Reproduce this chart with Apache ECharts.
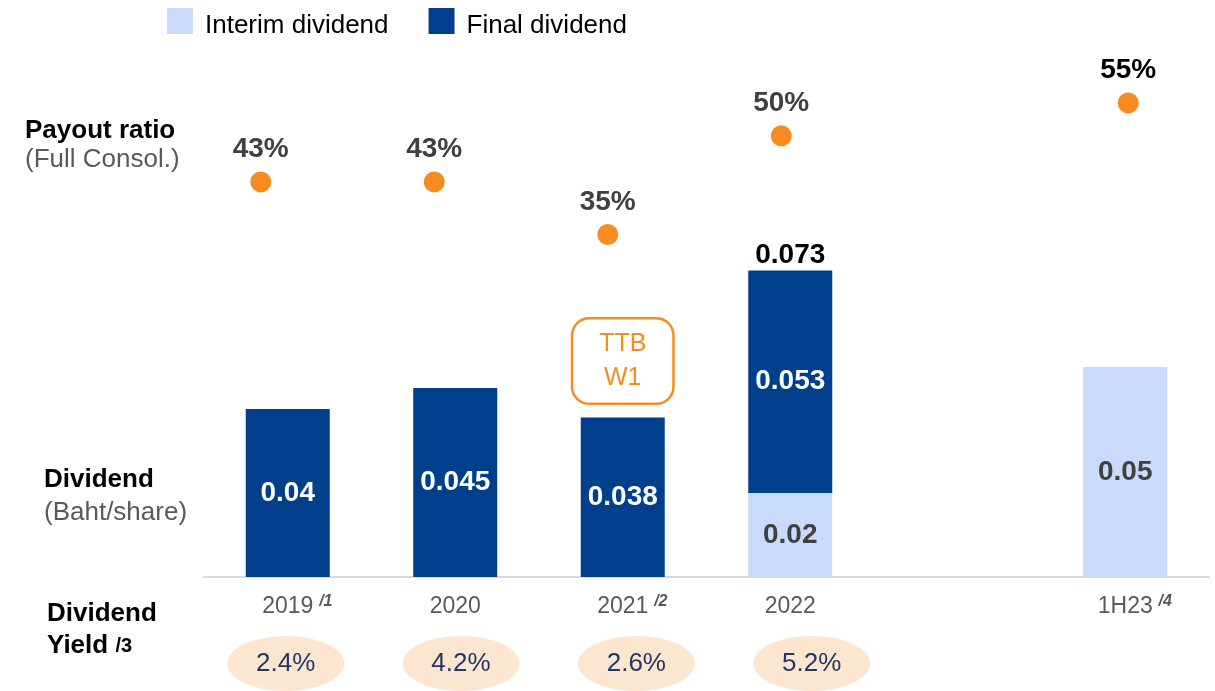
<!DOCTYPE html>
<html>
<head>
<meta charset="utf-8">
<script src="https://cdn.jsdelivr.net/npm/echarts@6/dist/echarts.min.js"></script>
<style>
html,body{margin:0;padding:0;background:#fff;}
#chart{width:1215px;height:691px;}
</style>
</head>
<body>
<div id="chart"></div>
<script>
// ---- data ----
const categories = ['2019', '2020', '2021', '2022', '', '1H23'];
const footnotes = ['/1', '', '/2', '', '', '/4'];
const interimDividend = ['-', '-', '-', 0.02, '-', 0.05];
const finalDividend = [0.04, 0.045, 0.038, 0.053, '-', '-'];
const payoutRatio = [43, 43, 35, 50, '-', 55];
const dividendYield = [2.4, 4.2, 2.6, 5.2, '-', '-'];
const noteCategory = '2021';
const noteText = 'TTB\nW1';

// totals shown only where both parts exist
const totals = categories.map((c, i) =>
  (typeof interimDividend[i] === 'number' && typeof finalDividend[i] === 'number')
    ? +(interimDividend[i] + finalDividend[i]).toFixed(3) : '-');

const FONT = "'Liberation Sans', Arial, sans-serif";
const DARK = '#003F8C', LIGHT = '#C9DAFB', ORANGE = '#F68B1F';

const chart = echarts.init(document.getElementById('chart'), null, {renderer: 'canvas'});

const lastPayoutIdx = payoutRatio.reduce((a, v, i) => typeof v === 'number' ? i : a, -1);

const option = {
  animation: false,
  textStyle: {fontFamily: FONT},
  legend: {
    left: 167, top: 8, padding: 0,
    itemWidth: 26, itemHeight: 26, itemGap: 40,
    icon: 'rect',
    data: ['Interim dividend', 'Final dividend'],
    formatter: '{a|{name}}',
    textStyle: {
      fontSize: 26, color: '#000', fontFamily: FONT, padding: [0, 0, 0, 7],
      rich: {a: {fontSize: 26, color: '#000', fontFamily: FONT, padding: [10, 0, 0, 0]}}
    },
    selectedMode: false
  },
  grid: [
    {left: 204, right: 6, top: 73, bottom: 114, outerBoundsMode: 'none'},
    {left: 174, right: 0, top: 73, bottom: 114, outerBoundsMode: 'none'},
    {left: 198, width: 1052, top: 636, height: 55, outerBoundsMode: 'none'}
  ],
  xAxis: [
    {
      gridIndex: 0, type: 'category', data: categories,
      axisLine: {lineStyle: {color: '#D9D9D9', width: 2}},
      axisTick: {show: false},
      axisLabel: {
        margin: 17,
        formatter: (v, i) => footnotes[i]
          ? '{sp|}{m|' + v + '}{s|' + footnotes[i] + '}'
          : '{m|' + v + '}',
        rich: {
          m: {fontSize: 23, color: '#595959', fontFamily: FONT, lineHeight: 26},
          s: {fontSize: 16, color: '#595959', fontWeight: 'bold', fontStyle: 'italic',
              fontFamily: FONT, width: 17, align: 'left', verticalAlign: 'top', padding: [0, 0, 10, 4]},
          sp: {width: 21}
        }
      }
    },
    {gridIndex: 1, type: 'category', data: categories, show: false},
    {gridIndex: 2, type: 'category', data: categories, show: false}
  ],
  yAxis: [
    {gridIndex: 0, type: 'value', min: 0, max: 0.12, show: false},
    {gridIndex: 1, type: 'value', min: -17.05, max: 59.55, show: false},
    {gridIndex: 2, type: 'category', data: ['yield'], show: false}
  ],
  series: [
    {
      name: 'Interim dividend', type: 'bar', stack: 'div',
      xAxisIndex: 0, yAxisIndex: 0, barWidth: 84,
      itemStyle: {color: LIGHT},
      data: interimDividend,
      label: {show: true, position: 'inside', color: '#404040', fontSize: 28, fontWeight: 'bold', fontFamily: FONT}
    },
    {
      name: 'Final dividend', type: 'bar', stack: 'div',
      xAxisIndex: 0, yAxisIndex: 0, barWidth: 84,
      itemStyle: {color: DARK},
      data: finalDividend,
      label: {show: true, position: 'inside', color: '#fff', fontSize: 28, fontWeight: 'bold', fontFamily: FONT},
      markPoint: {
        symbol: 'rect', symbolSize: 1,
        itemStyle: {color: 'rgba(0,0,0,0)'},
        label: {
          show: true, position: 'inside', formatter: noteText,
          color: ORANGE, fontSize: 25, lineHeight: 34, fontFamily: FONT,
          borderColor: ORANGE, borderWidth: 2.5, borderRadius: 16,
          backgroundColor: '#fff',
          width: 99, height: 83, align: 'center', verticalAlign: 'middle'
        },
        data: [{coord: [noteCategory, 0.0514]}]
      }
    },
    {
      name: 'Total', type: 'scatter', xAxisIndex: 0, yAxisIndex: 0,
      symbolSize: 1, itemStyle: {color: 'rgba(0,0,0,0)', opacity: 1},
      data: totals,
      label: {show: true, position: 'top', distance: 1, color: '#000', fontSize: 28, fontWeight: 'bold', fontFamily: FONT}
    },
    {
      name: 'Payout ratio', type: 'scatter', xAxisIndex: 1, yAxisIndex: 1,
      symbolSize: 21, itemStyle: {color: ORANGE, opacity: 1},
      data: payoutRatio.map((v, i) => i === lastPayoutIdx
        ? {value: v, label: {color: '#000'}} : v),
      label: {show: true, position: 'top', distance: 8, formatter: '{c}%',
              color: '#404040', fontSize: 28, fontWeight: 'bold', fontFamily: FONT}
    },
    {
      name: 'Dividend yield', type: 'scatter', xAxisIndex: 2, yAxisIndex: 2,
      symbol: 'path://M0,50 A50,50 0 1,1 100,50 A50,50 0 1,1 0,50 Z',
      symbolSize: [117, 55], symbolKeepAspect: false,
      itemStyle: {color: '#FCE6D0', opacity: 1},
      data: dividendYield.map((v, i) => typeof v === 'number' ? [categories[i], 'yield', v] : null).filter(Boolean),
      label: {show: true, position: 'inside', formatter: p => p.value[2].toFixed(1) + '%',
              color: '#1F3864', fontSize: 26, fontFamily: FONT}
    }
  ],
  graphic: [
    {type: 'text', x: 25, y: 131, style: {text: 'Payout ratio', font: 'bold 26px ' + FONT, fill: '#000', verticalAlign: 'middle'}},
    {type: 'text', x: 25, y: 160, style: {text: '(Full Consol.)', font: '26px ' + FONT, fill: '#595959', verticalAlign: 'middle'}},
    {type: 'text', x: 44, y: 480, style: {text: 'Dividend', font: 'bold 26px ' + FONT, fill: '#000', verticalAlign: 'middle'}},
    {type: 'text', x: 44, y: 513, style: {text: '(Baht/share)', font: '26px ' + FONT, fill: '#595959', verticalAlign: 'middle'}},
    {type: 'text', x: 47, y: 614, style: {text: 'Dividend', font: 'bold 26px ' + FONT, fill: '#000', verticalAlign: 'middle'}},
    {type: 'text', x: 47, y: 646, style: {
      text: 'Yield {s|/3}', font: 'bold 26px ' + FONT, fill: '#000', verticalAlign: 'middle',
      rich: {s: {font: 'bold 20px ' + FONT, fill: '#000'}}
    }}
  ]
};
chart.setOption(option);
</script>
</body>
</html>
